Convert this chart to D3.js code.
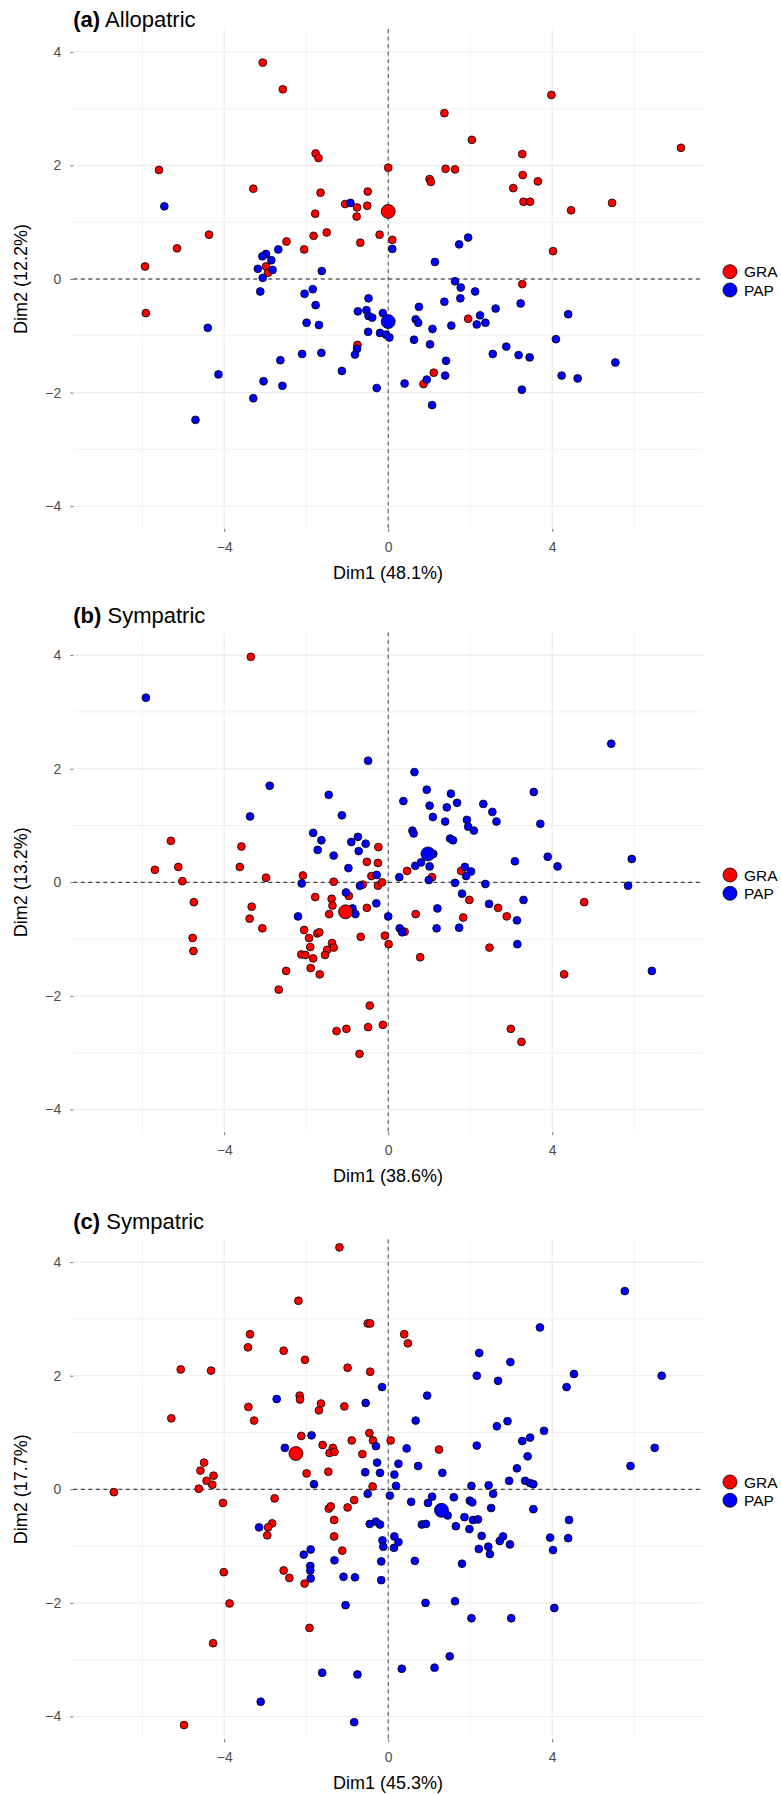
<!DOCTYPE html>
<html><head><meta charset="utf-8">
<script src="https://cdn.jsdelivr.net/npm/d3@7"></script>
<style>body{margin:0;background:#fff;} text{font-family:"Liberation Sans",Arial,Helvetica,sans-serif;}</style>
</head><body><svg id="chart" width="781" height="1794"></svg>
<script>
// ---------- data ----------
const groups = ["GRA", "PAP"];
const xTickValues = [-4, 0, 4];
const yTickValues = [-4, -2, 0, 2, 4];
const xMajorGrid = [-4, 0, 4];
const xMinorGrid = [-6, -2, 2, 6];
const yMajorGrid = [-4, -2, 0, 2, 4];
const yMinorGrid = [-3, -1, 1, 3];

const panelTags = ["(a)", "(b)", "(c)"];
const panelNames = ["Allopatric", "Sympatric", "Sympatric"];
const xTitles = ["Dim1 (48.1%)", "Dim1 (38.6%)", "Dim1 (45.3%)"];
const yTitles = ["Dim2 (12.2%)", "Dim2 (13.2%)", "Dim2 (17.7%)"];

const allopatricGRA = [[-5.59,1.92],[-1.77,2.21],[-1.70,2.13],[0.0,1.96],[-3.29,1.59],[-1.65,1.52],[-1.05,1.32],[-0.76,1.26],[-0.51,1.29],[-0.50,1.54],[-1.78,1.15],[-0.77,1.10],[-4.37,0.78],[-1.82,0.76],[-1.50,0.82],[-2.48,0.66],[-2.05,0.52],[-0.68,0.64],[-0.21,0.78],[0.10,0.69],[-5.15,0.54],[-5.93,0.22],[-2.98,0.22],[-2.93,0.11],[-5.91,-0.60],[-0.75,-1.16],[-3.06,3.81],[-2.57,3.34],[3.98,3.24],[1.37,2.92],[2.04,2.45],[3.27,2.20],[7.14,2.31],[1.40,1.94],[1.63,1.93],[1.01,1.76],[1.04,1.71],[3.28,1.83],[3.65,1.72],[3.05,1.60],[3.30,1.36],[3.46,1.36],[4.46,1.21],[5.46,1.34],[4.02,0.49],[3.27,-0.09],[1.95,-0.70],[1.11,-1.65],[0.86,-1.85]];
const allopatricPAP = [[-5.46,1.28],[-0.92,1.34],[0.10,0.53],[-2.68,0.52],[-2.98,0.44],[-3.07,0.40],[-2.85,0.33],[-3.18,0.18],[-2.82,0.16],[-3.06,0.02],[-1.62,0.14],[-3.12,-0.22],[-2.04,-0.26],[-1.84,-0.18],[-1.77,-0.46],[-0.48,-0.34],[-0.74,-0.57],[-0.53,-0.55],[-0.48,-0.65],[-0.39,-0.68],[-0.13,-0.60],[-1.99,-0.77],[-1.69,-0.81],[-0.49,-0.93],[-0.20,-0.95],[-0.05,-0.98],[0.03,-1.03],[-4.40,-0.86],[-0.76,-1.23],[-0.81,-1.33],[-2.10,-1.32],[-1.63,-1.30],[-2.63,-1.43],[-1.13,-1.62],[-4.14,-1.68],[-3.04,-1.80],[-2.58,-1.88],[-3.29,-2.10],[-0.28,-1.92],[-4.70,-2.48],[1.95,0.73],[1.73,0.61],[1.14,0.30],[1.63,-0.04],[1.77,-0.15],[2.12,-0.22],[1.37,-0.40],[1.76,-0.34],[0.75,-0.49],[3.23,-0.43],[2.62,-0.52],[4.39,-0.62],[2.24,-0.64],[2.16,-0.80],[2.37,-0.77],[1.54,-0.82],[0.67,-0.71],[0.73,-0.77],[1.08,-0.88],[0.63,-1.07],[1.02,-1.15],[4.09,-1.06],[1.41,-1.44],[2.55,-1.32],[2.88,-1.19],[3.18,-1.34],[3.45,-1.38],[5.54,-1.47],[1.39,-1.70],[0.94,-1.77],[0.40,-1.84],[4.23,-1.70],[4.62,-1.75],[3.26,-1.95],[1.07,-2.22]];
const allopatricCentroids = [[0.0,1.19],[0.0,-0.75]];

const sympatricBGRA = [[-5.30,0.73],[-5.69,0.22],[-5.12,0.27],[-5.02,0.02],[-4.74,-0.35],[-4.77,-0.98],[-4.75,-1.21],[-3.58,0.63],[-3.62,0.27],[-2.98,0.08],[-3.33,-0.43],[-3.38,-0.64],[-3.07,-0.81],[-2.08,0.12],[-1.33,0.01],[-0.24,0.62],[-0.52,0.36],[-0.25,0.34],[-0.41,0.11],[-0.62,-0.04],[-0.25,-0.06],[-0.15,0.0],[-1.78,-0.26],[-1.38,-0.29],[-1.36,-0.41],[-1.44,-0.56],[-0.96,-0.24],[-0.52,-0.45],[-0.67,-0.96],[-0.08,-0.94],[0.01,-1.09],[-2.05,-0.84],[-1.93,-0.98],[-1.73,-0.90],[-1.68,-0.88],[-1.90,-1.14],[-2.12,-1.27],[-2.02,-1.28],[-1.83,-1.34],[-1.37,-1.07],[-1.33,-1.15],[-1.49,-1.19],[-1.54,-1.28],[-1.89,-1.51],[-1.67,-1.62],[-2.49,-1.56],[-2.67,-1.89],[-0.45,-2.17],[-1.26,-2.62],[-1.02,-2.58],[-0.49,-2.55],[-0.13,-2.51],[-0.70,-3.02],[-3.35,3.97],[4.29,-1.62],[4.78,-0.35],[0.46,0.20],[1.07,0.09],[1.78,0.20],[1.98,-0.31],[0.67,-0.56],[1.83,-0.62],[2.68,-0.45],[2.89,-0.60],[0.40,-0.87],[0.78,-1.32],[2.47,-1.15],[2.99,-2.58],[3.25,-2.81]];
const sympatricBPAP = [[-0.49,2.14],[-2.89,1.70],[-1.45,1.54],[-3.37,1.16],[-1.13,1.18],[-1.83,0.87],[-1.63,0.74],[-1.72,0.57],[-1.33,0.47],[-0.74,0.80],[-0.90,0.71],[-0.55,0.68],[-0.72,0.55],[-0.97,0.25],[-0.28,0.13],[-2.11,-0.02],[-1.03,-0.18],[-0.69,-0.06],[0.27,0.09],[-0.87,-0.46],[-0.80,-0.56],[-2.20,-0.60],[-0.29,-0.37],[0.0,-0.60],[-5.91,3.25],[5.44,2.44],[5.94,0.41],[5.85,-0.06],[6.43,-1.56],[0.64,1.94],[0.94,1.63],[0.37,1.43],[1.53,1.56],[1.01,1.35],[1.68,1.40],[1.43,1.32],[1.09,1.15],[1.39,1.07],[2.32,1.38],[2.54,1.24],[2.64,1.07],[1.92,1.10],[1.95,0.98],[2.09,0.91],[3.55,1.59],[3.71,1.03],[0.59,0.91],[0.62,0.86],[1.51,0.77],[1.58,0.74],[0.66,0.29],[0.80,0.35],[1.01,0.28],[1.10,0.50],[0.99,0.04],[1.87,0.27],[2.02,0.19],[1.90,0.11],[1.63,-0.01],[2.37,-0.03],[3.09,0.37],[3.89,0.45],[4.13,0.28],[1.80,-0.20],[3.30,-0.31],[2.46,-0.38],[1.20,-0.46],[3.14,-0.67],[0.28,-0.81],[0.34,-0.88],[1.18,-0.81],[1.73,-0.80],[3.15,-1.09]];
const sympatricBCentroids = [[-1.04,-0.52],[0.97,0.50]];

const sympatricCGRA = [[-3.37,2.73],[-3.42,2.50],[-2.55,2.44],[-2.03,2.28],[-5.06,2.11],[-4.32,2.09],[-0.99,2.14],[-0.44,2.07],[-2.16,1.65],[-2.15,1.58],[-3.41,1.45],[-1.64,1.51],[-1.69,1.39],[-1.07,1.46],[-5.29,1.25],[-3.27,1.21],[-2.12,0.94],[-1.60,0.78],[-1.35,0.73],[-1.43,0.64],[-1.31,0.66],[-0.89,0.86],[-0.46,0.99],[-0.37,0.86],[0.06,0.86],[-0.63,0.62],[-4.49,0.47],[-4.58,0.33],[-4.26,0.24],[-4.43,0.15],[-4.29,0.08],[-4.62,0.01],[-6.69,-0.05],[-1.99,0.28],[-1.46,0.31],[-0.38,0.05],[-4.03,-0.24],[-2.77,-0.16],[-1.45,-0.34],[-1.40,-0.30],[-0.99,-0.32],[-0.83,-0.19],[-1.32,-0.54],[-2.83,-0.60],[-2.93,-0.67],[-2.95,-0.81],[-1.32,-0.83],[-1.12,-1.08],[-4.01,-1.46],[-2.55,-1.43],[-2.41,-1.56],[-2.04,-1.66],[-3.87,-2.01],[-1.92,-2.44],[-4.27,-2.71],[-4.98,-4.15],[-1.19,4.26],[-2.19,3.32],[-0.50,2.92],[-0.44,2.92],[0.39,2.73],[0.48,2.57],[1.24,0.70]];
const sympatricCPAP = [[-0.15,1.80],[-2.72,1.59],[-0.55,1.52],[-1.87,0.95],[-2.52,0.73],[-0.30,0.76],[-0.27,0.47],[-0.56,0.30],[-0.20,0.29],[-1.81,0.09],[0.15,0.26],[0.19,0.06],[0.25,0.45],[-0.50,-0.08],[0.04,-0.11],[-3.15,-0.67],[-0.45,-0.61],[-0.30,-0.57],[-0.20,-0.62],[-0.14,-0.90],[-0.12,-1.01],[0.15,-0.83],[0.14,-1.03],[0.25,-0.93],[-1.89,-1.06],[-2.06,-1.15],[-1.90,-1.35],[-1.90,-1.43],[-1.89,-1.57],[-1.31,-1.25],[-1.09,-1.54],[-0.81,-1.55],[-0.17,-1.27],[-0.17,-1.60],[-1.04,-2.04],[-1.61,-3.23],[-0.75,-3.26],[-3.11,-3.74],[-0.83,-4.10],[0.33,-3.16],[1.13,-3.14],[1.50,-2.94],[3.70,2.85],[5.77,3.49],[2.22,2.40],[2.98,2.24],[2.16,2.00],[2.68,1.91],[4.53,2.03],[4.35,1.80],[6.67,2.00],[0.95,1.65],[0.67,1.21],[2.65,1.11],[2.91,1.20],[3.80,1.03],[3.27,0.85],[3.46,0.91],[2.16,0.77],[0.45,0.72],[6.50,0.73],[3.40,0.58],[5.91,0.41],[0.73,0.41],[1.32,0.29],[3.14,0.37],[2.95,0.15],[3.34,0.15],[3.46,0.11],[3.54,0.09],[2.03,0.06],[2.45,0.07],[2.56,-0.08],[0.56,-0.22],[0.97,-0.24],[1.07,-0.13],[1.60,-0.14],[1.99,-0.20],[2.05,-0.23],[1.45,-0.46],[2.51,-0.33],[3.54,-0.35],[1.86,-0.49],[2.07,-0.54],[2.19,-0.53],[0.82,-0.62],[0.92,-0.61],[1.65,-0.65],[1.98,-0.70],[4.41,-0.54],[2.28,-0.82],[2.72,-0.91],[2.80,-0.83],[2.97,-0.97],[3.95,-0.85],[4.39,-0.86],[2.21,-1.05],[2.44,-1.01],[2.48,-1.14],[4.02,-1.07],[0.65,-1.26],[1.80,-1.31],[0.91,-2.00],[1.63,-1.97],[2.03,-2.27],[3.00,-2.27],[4.05,-2.09]];
const sympatricCCentroids = [[-2.25,0.63],[1.30,-0.37]];

// ---------- layout ----------
const colors = { GRA: "#ff0000", PAP: "#0000ff" };
const panelTops = [29.1, 632.4, 1239.4];
const titleBaselines = [27.3, 622.5, 1229];
const plotH = 499.8;
const plotL = 73.3, plotR = 702.7;

const panels = [
  { gra: allopatricGRA, pap: allopatricPAP, cent: allopatricCentroids },
  { gra: sympatricBGRA, pap: sympatricBPAP, cent: sympatricBCentroids },
  { gra: sympatricCGRA, pap: sympatricCPAP, cent: sympatricCCentroids }
];

const svg = d3.select("#chart");
svg.append("rect").attr("width", 781).attr("height", 1794).attr("fill", "#fff");

const x = d3.scaleLinear().domain([-7.68, 7.67]).range([plotL, plotR]);

panels.forEach((p, i) => {
  const top = panelTops[i], bottom = top + plotH;
  const y = d3.scaleLinear().domain([-4.4, 4.4]).range([bottom, top]);
  const g = svg.append("g");

  // grid
  const grid = g.append("g");
  grid.selectAll(".xmin").data(xMinorGrid).join("line")
    .attr("x1", d => x(d)).attr("x2", d => x(d)).attr("y1", top).attr("y2", bottom)
    .attr("stroke", "#ebebeb").attr("stroke-width", 0.7);
  grid.selectAll(".ymin").data(yMinorGrid).join("line")
    .attr("y1", d => y(d)).attr("y2", d => y(d)).attr("x1", plotL).attr("x2", plotR)
    .attr("stroke", "#ebebeb").attr("stroke-width", 0.7);
  grid.selectAll(".xmaj").data(xMajorGrid).join("line")
    .attr("x1", d => x(d)).attr("x2", d => x(d)).attr("y1", top).attr("y2", bottom)
    .attr("stroke", "#ebebeb").attr("stroke-width", 1.1);
  grid.selectAll(".ymaj").data(yMajorGrid).join("line")
    .attr("y1", d => y(d)).attr("y2", d => y(d)).attr("x1", plotL).attr("x2", plotR)
    .attr("stroke", "#ebebeb").attr("stroke-width", 1.1);

  // reference dashed lines
  g.append("line").attr("x1", plotL).attr("x2", plotR).attr("y1", y(0)).attr("y2", y(0))
    .attr("stroke", "#000").attr("stroke-width", 0.9).attr("stroke-dasharray", "4,3.5");
  g.append("line").attr("x1", x(0)).attr("x2", x(0)).attr("y1", top).attr("y2", bottom)
    .attr("stroke", "#333").attr("stroke-width", 0.9).attr("stroke-dasharray", "4,3.5");

  // axes
  const ax = g.append("g").attr("transform", `translate(0,${bottom})`)
    .call(d3.axisBottom(x).tickValues(xTickValues).tickSize(3).tickPadding(10));
  const ay = g.append("g").attr("transform", `translate(${plotL},0)`)
    .call(d3.axisLeft(y).tickValues(yTickValues).tickSize(3).tickPadding(9));
  [ax, ay].forEach(a => {
    a.select(".domain").remove();
    a.selectAll(".tick line").attr("stroke", "#4d4d4d").attr("stroke-width", 0.8);
    a.selectAll(".tick text").attr("fill", "#4d4d4d").style("font-size", "14px")
      .style("font-family", '"Liberation Sans", Arial, sans-serif');
  });

  // points
  const pts = g.append("g");
  pts.selectAll(".gra").data(p.gra).join("circle")
    .attr("cx", d => x(d[0])).attr("cy", d => y(d[1])).attr("r", 3.9)
    .attr("fill", colors.GRA).attr("stroke", "#000").attr("stroke-width", 0.8);
  pts.selectAll(".pap").data(p.pap).join("circle")
    .attr("cx", d => x(d[0])).attr("cy", d => y(d[1])).attr("r", 3.9)
    .attr("fill", colors.PAP).attr("stroke", "#000").attr("stroke-width", 0.8);
  pts.selectAll(".cent").data(p.cent).join("circle")
    .attr("cx", d => x(d[0])).attr("cy", d => y(d[1])).attr("r", 7)
    .attr("fill", (d, k) => colors[groups[k]]).attr("stroke", "#000").attr("stroke-width", 0.8);

  // titles
  const t = g.append("text").attr("x", plotL).attr("y", titleBaselines[i])
    .style("font-size", "22px").attr("fill", "#000");
  t.append("tspan").attr("font-weight", "bold").text(panelTags[i]);
  t.append("tspan").text(" " + panelNames[i]);

  g.append("text").attr("x", (plotL + plotR) / 2).attr("y", bottom + 50)
    .attr("text-anchor", "middle").style("font-size", "18px").text(xTitles[i]);
  g.append("text").attr("transform", `translate(27,${(top + bottom) / 2}) rotate(-90)`)
    .attr("text-anchor", "middle").style("font-size", "18px").text(yTitles[i]);

  // legend
  const mid = (top + bottom) / 2;
  const leg = g.append("g");
  groups.forEach((k, j) => {
    const cy = mid + (j === 0 ? -7.3 : 11);
    leg.append("circle").attr("cx", 730).attr("cy", cy).attr("r", 7)
      .attr("fill", colors[k]).attr("stroke", "#000").attr("stroke-width", 0.8);
    leg.append("text").attr("x", 744).attr("y", cy).attr("dy", "0.36em")
      .style("font-size", "15.5px").text(k);
  });
});
</script></body></html>
